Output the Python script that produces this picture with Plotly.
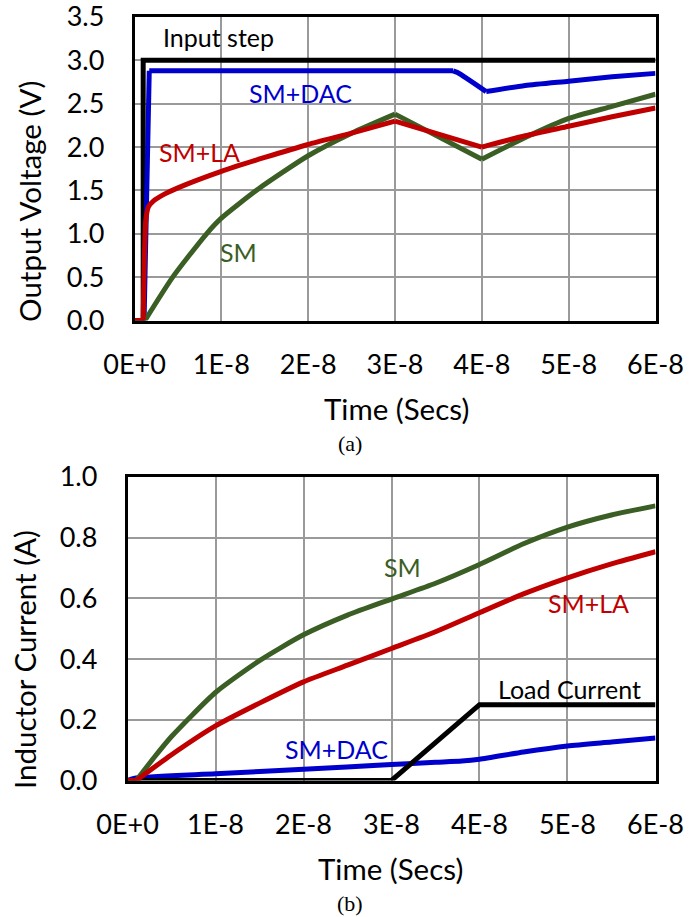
import plotly.graph_objects as go

W, H = 693, 917

# ---------------- (a) Output voltage ----------------
t_input = [0, 1.0e-9, 1.0e-9, 6e-8]
v_input = [0, 0, 3.0, 3.0]

t_dac_a = [0, 1.1e-9, 1.7e-9, 3.67e-8, 3.72e-8, 4.05e-8, 4.5e-8, 5e-8, 5.5e-8, 6e-8]
v_dac_a = [0, 0, 2.88, 2.88, 2.86, 2.64, 2.71, 2.76, 2.81, 2.85]

t_sm_a = [0, 1.2e-9, 4.4e-9, 8.3e-9, 1.0e-8, 1.43e-8, 2.0e-8, 2.5e-8, 3.0e-8,
          4.0e-8, 4.5e-8, 5.0e-8, 5.5e-8, 6e-8]
v_sm_a = [0, 0, 0.5, 1.0, 1.18, 1.52, 1.9, 2.16, 2.38, 1.86, 2.11, 2.33, 2.47, 2.61]

t_la_a = [0, 1.0e-9, 1.3e-9, 1.6e-9, 2.2e-9, 3.5e-9, 5e-9, 1e-8, 1.5e-8, 2e-8,
          2.5e-8, 3e-8, 4e-8, 4.5e-8, 5e-8, 5.5e-8, 6e-8]
v_la_a = [0, 0, 1.15, 1.31, 1.38, 1.46, 1.53, 1.72, 1.88, 2.03, 2.16, 2.30,
          2.0, 2.13, 2.24, 2.35, 2.45]

# ---------------- (b) Inductor current ----------------
t_load = [0, 3e-8, 4e-8, 6e-8]
i_load = [0, 0, 0.25, 0.25]

t_dac_b = [0, 1e-9, 1e-8, 2e-8, 3e-8, 3.5e-8, 3.8e-8, 4e-8, 4.5e-8, 5e-8, 5.5e-8, 6e-8]
i_dac_b = [0, 0.008, 0.022, 0.037, 0.053, 0.06, 0.064, 0.07, 0.094, 0.114, 0.127, 0.14]

t_sm_b = [0, 1e-9, 3e-9, 5e-9, 1e-8, 1.5e-8, 2e-8, 2.5e-8, 3e-8, 3.5e-8, 4e-8,
          4.5e-8, 5e-8, 5.5e-8, 6e-8]
i_sm_b = [0, 0, 0.075, 0.145, 0.29, 0.395, 0.48, 0.545, 0.598, 0.65, 0.712,
          0.78, 0.835, 0.875, 0.905]

t_la_b = [0, 1e-9, 5e-9, 1e-8, 1.5e-8, 2e-8, 2.5e-8, 3e-8, 3.5e-8, 4e-8,
          4.5e-8, 5e-8, 5.5e-8, 6e-8]
i_la_b = [0, 0, 0.085, 0.18, 0.255, 0.325, 0.38, 0.435, 0.49, 0.553, 0.615,
          0.668, 0.714, 0.754]

x_tickvals = [0, 1e-8, 2e-8, 3e-8, 4e-8, 5e-8, 6e-8]
x_ticktext = ["0E+0", "1E-8", "2E-8", "3E-8", "4E-8", "5E-8", "6E-8"]
ya_tickvals = [0, 0.5, 1.0, 1.5, 2.0, 2.5, 3.0, 3.5]
ya_ticktext = ["0.0", "0.5", "1.0", "1.5", "2.0", "2.5", "3.0", "3.5"]
yb_tickvals = [0, 0.2, 0.4, 0.6, 0.8, 1.0]
yb_ticktext = ["0.0", "0.2", "0.4", "0.6", "0.8", "1.0"]

BLACK = "#000000"
BLUE = "#0000CC"
RED = "#C00000"
GREEN = "#3B5E24"
FONT = "Lato"

def px_x(p):
    return p / W

def px_y(p):
    return 1 - p / H

fig = go.Figure()
lw = 5

def add_series(t, v, color, xa, ya, breaks=None, shape="spline"):
    """Draw one series; split at corner indices so corners stay sharp."""
    idx = [0] + (breaks or []) + [len(t) - 1]
    for a, b in zip(idx[:-1], idx[1:]):
        seg_t, seg_v = t[a:b + 1], v[a:b + 1]
        s = shape if len(seg_t) > 2 else "linear"
        fig.add_trace(go.Scatter(x=seg_t, y=seg_v, mode="lines",
                                 line=dict(color=color, width=lw, shape=s, smoothing=0.6),
                                 xaxis=xa, yaxis=ya, hoverinfo="skip"))

# (a)
add_series(t_input, v_input, BLACK, "x", "y", shape="linear")
add_series(t_dac_a, v_dac_a, BLUE, "x", "y", breaks=[1, 2, 3, 5])
add_series(t_sm_a, v_sm_a, GREEN, "x", "y", breaks=[1, 8, 9])
add_series(t_la_a, v_la_a, RED, "x", "y", breaks=[1, 11, 12])

# (b)
add_series(t_dac_b, i_dac_b, BLUE, "x2", "y2")
add_series(t_load, i_load, BLACK, "x2", "y2", shape="linear")
add_series(t_sm_b, i_sm_b, GREEN, "x2", "y2", breaks=[1])
add_series(t_la_b, i_la_b, RED, "x2", "y2", breaks=[1])

axis_common = dict(
    showline=True, linecolor=BLACK, linewidth=2.5, mirror=True,
    showgrid=True, gridcolor="#9A9A9A", gridwidth=1.5,
    zeroline=False, ticks="", automargin=False, ticklabeloverflow="allow",
    tickfont=dict(family=FONT, size=27, color=BLACK),
)

fig.update_layout(
    width=W, height=H, margin=dict(l=0, r=0, t=0, b=0),
    paper_bgcolor="white", plot_bgcolor="white", showlegend=False,
    xaxis=dict(axis_common, domain=[px_x(134.5), px_x(655.5)], range=[0, 6.0001e-8],
               tickvals=x_tickvals, ticktext=x_ticktext, anchor="y", ticklabelstandoff=18),
    yaxis=dict(axis_common, domain=[px_y(320.5), px_y(17)], range=[0, 3.5001],
               tickvals=ya_tickvals, ticktext=ya_ticktext, anchor="x", ticklabelstandoff=22),
    xaxis2=dict(axis_common, domain=[px_x(127.5), px_x(655.5)], range=[0, 6.0001e-8],
                tickvals=x_tickvals, ticktext=x_ticktext, anchor="y2", ticklabelstandoff=18),
    yaxis2=dict(axis_common, domain=[px_y(780.5), px_y(477)], range=[0, 1.0001],
                tickvals=yb_tickvals, ticktext=yb_ticktext, anchor="x2", ticklabelstandoff=22),
)

def ann(text, x, y, color=BLACK, size=25, family=FONT, angle=0):
    fig.add_annotation(text=text, x=px_x(x), y=px_y(y), xref="paper", yref="paper",
                       showarrow=False, xanchor="center", yanchor="middle",
                       textangle=angle, font=dict(family=family, size=size, color=color))

# axis titles
ann("Time (Secs)", 396, 408, size=29.5)
ann("Time (Secs)", 391, 868, size=29.5)
ann("Output Voltage (V)", 29, 201, size=29.5, angle=-90)
ann("Inductor Current (A)", 24, 660, size=29.5, angle=-90)

# captions
ann("(a)", 350, 443, size=22, family="Liberation Serif")
ann("(b)", 350, 903, size=22, family="Liberation Serif")

# series labels (a)
ann("Input step", 218, 37)
ann("SM+DAC", 300, 93, color=BLUE)
ann("SM+LA", 199, 152, color=RED)
ann("SM", 238, 252, color=GREEN)

# series labels (b)
ann("SM", 402, 567, color=GREEN)
ann("SM+LA", 588, 603, color=RED)
ann("Load Current", 569, 689)
ann("SM+DAC", 336, 749, color=BLUE)

fig.write_html("out.html", config={"displayModeBar": False},
               post_script="document.body.style.margin='0';document.body.style.overflow='hidden';")
